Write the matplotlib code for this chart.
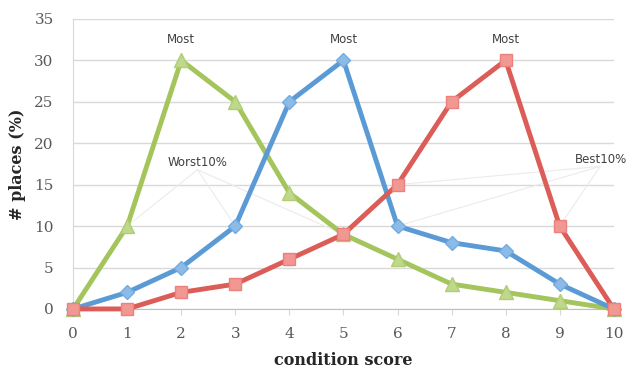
import matplotlib.pyplot as plt

scores = list(range(11))
worst = [0, 10, 30, 25, 14, 9, 6, 3, 2, 1, 0]
middle = [0, 2, 5, 10, 25, 30, 10, 8, 7, 3, 0]
best = [0, 0, 2, 3, 6, 9, 15, 25, 30, 10, 0]
y_ticks = [0, 5, 10, 15, 20, 25, 30, 35]

fig = plt.figure(figsize=(6.36, 3.70), dpi=100)
ax = fig.add_axes([0.115, 0.165, 0.85, 0.784])

# faint callout lines behind the series
for tx, ty, px, py in [(2.3, 16.8, 1, 10), (2.3, 16.8, 3, 10), (2.3, 16.8, 5, 9),
                       (9.75, 17.2, 6, 15), (9.75, 17.2, 6, 10), (9.75, 17.2, 9, 10)]:
    ax.plot([tx, px], [ty, py], color='#ebebeb', lw=0.8, zorder=1)

ax.plot(scores, worst, color='#a4c45c', lw=3.5, marker='^', ms=9.5,
        mfc='#bfd88c', mec='#b0cd72', zorder=3, clip_on=False)
ax.plot(scores, middle, color='#5b9bd5', lw=3.5, marker='D', ms=7.5,
        mfc='#8cbbe8', mec='#74abe0', zorder=4, clip_on=False)
ax.plot(scores, best, color='#dc5c57', lw=3.5, marker='s', ms=9,
        mfc='#f29893', mec='#ea817c', zorder=5, clip_on=False)

for x in [2, 5, 8]:
    ax.text(x, 32.5, 'Most', ha='center', va='center', fontsize=8.5, color='#404040')
ax.text(2.3, 17.7, 'Worst10%', ha='center', va='center', fontsize=8.5, color='#404040')
ax.text(10.25, 18.0, 'Best10%', ha='right', va='center', fontsize=8.5, color='#404040',
        clip_on=False)

ax.set_xlim(0, 10)
ax.set_ylim(0, 35)
ax.set_xticks(scores)
ax.set_yticks(y_ticks)
ax.yaxis.grid(True, color='#d9d9d9', lw=1)
ax.set_axisbelow(True)
for side in ['top', 'right']:
    ax.spines[side].set_visible(False)
ax.spines['left'].set_color('#d9d9d9')
ax.spines['bottom'].set_color('#bfbfbf')
ax.tick_params(axis='y', length=0, pad=14)
ax.tick_params(axis='x', length=4, direction='out', color='#d9d9d9', pad=9)
for lab in ax.get_xticklabels() + ax.get_yticklabels():
    lab.set_family('DejaVu Serif')
    lab.set_fontsize(11)
    lab.set_color('#595959')

ax.set_xlabel('condition score', family='DejaVu Serif', fontweight='bold',
              fontsize=11.5, color='#262626', labelpad=8)
ax.set_ylabel('# places (%)', family='DejaVu Serif', fontweight='bold',
              fontsize=11.5, color='#262626', labelpad=6)

fig.savefig('out.png', dpi=100)
